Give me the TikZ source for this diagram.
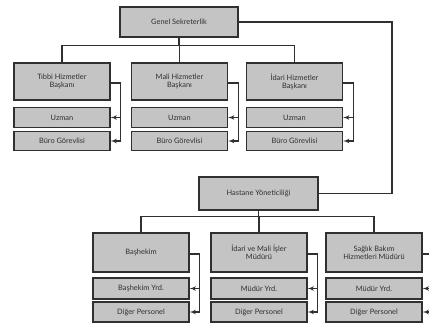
\documentclass[tikz,border=0pt]{standalone}
\usepackage{fontspec}
\setmainfont{Lato}
\usetikzlibrary{arrows}
\definecolor{boxgray}{HTML}{C4C4C4}
\definecolor{linegray}{HTML}{303030}

\begin{document}
\begin{tikzpicture}
			[x=1pt,y=-1pt,every node/.style={draw=linegray,fill=boxgray,line width=1.3pt,font=\fontsize{7.4}{8.2}\selectfont,text=linegray,align=center,inner sep=0pt},
			head/.style={minimum width=96pt,minimum height=37pt},
			sub/.style={minimum width=96pt,minimum height=19.5pt},
			line/.style={draw=linegray,line width=1.1pt},
			edge/.style={line,->,> = latex'}]
			\clip (0,0) rectangle (429,322);
			\node[minimum width=118pt,minimum height=30pt] (gs) at (179,22) {Genel Sekreterlik};
			\node[head] (tibbi) at (62,81.5) {Tıbbi Hizmetler\\Başkanı};
			\node[head] (mali) at (179.5,81.5) {Mali Hizmetler\\Başkanı};
			\node[head] (idari) at (294.5,81.5) {İdari Hizmetler\\Başkanı};
			\node[sub] (tibbiU) at (62,117.5) {Uzman};
			\node[sub] (tibbiB) at (62,141) {Büro Görevlisi};
			\node[sub] (maliU) at (179.5,117.5) {Uzman};
			\node[sub] (maliB) at (179.5,141) {Büro Görevlisi};
			\node[sub] (idariU) at (294.5,117.5) {Uzman};
			\node[sub] (idariB) at (294.5,141) {Büro Görevlisi};
			
			\node[minimum width=119pt,minimum height=33pt] (hy) at (258.5,193.5) {Hastane Yöneticiliği};
			\node[head,minimum height=39pt] (bas) at (141,252.5) {Başhekim};
			\node[head,minimum height=39pt] (ima) at (259,252.5) {İdari ve Mali İşler\\Müdürü};
			\node[head,minimum height=39pt] (sag) at (374,252.5) {Sağlık Bakım\\Hizmetleri Müdürü};
			\node[sub,minimum height=21pt] (basY) at (141,288.5) {Başhekim Yrd.};
			\node[sub,minimum height=20pt] (basP) at (141,312) {Diğer Personel};
			\node[sub,minimum height=21pt] (imaY) at (259,288.5) {Müdür Yrd.};
			\node[sub,minimum height=20pt] (imaP) at (259,312) {Diğer Personel};
			\node[sub,minimum height=21pt] (sagY) at (374,288.5) {Müdür Yrd.};
			\node[sub,minimum height=20pt] (sagP) at (374,312) {Diğer Personel};
			
			\foreach \to in {tibbi,mali,idari}
			\draw[line] (gs.south) -- ++(0,8) -| (\to.north);
			\foreach \to in {bas,ima,sag}
			\draw[line] (hy.south) -- ++(0,6) -| (\to.north);
			
			\draw[line] (gs.east) -- (392,22) |- (hy.east);
			
			\foreach \from/\a/\b in {tibbi/tibbiU/tibbiB,mali/maliU/maliB,idari/idariU/idariB,bas/basY/basP,ima/imaY/imaP,sag/sagY/sagP}
			{
			\draw[edge] ([yshift=-1.5pt]\from.east) -- ++(10,0) |- (\a.east);
			\draw[edge] ([yshift=-1.5pt]\from.east) -- ++(10,0) |- (\b.east);
			}
			\end{tikzpicture}
\end{document}
